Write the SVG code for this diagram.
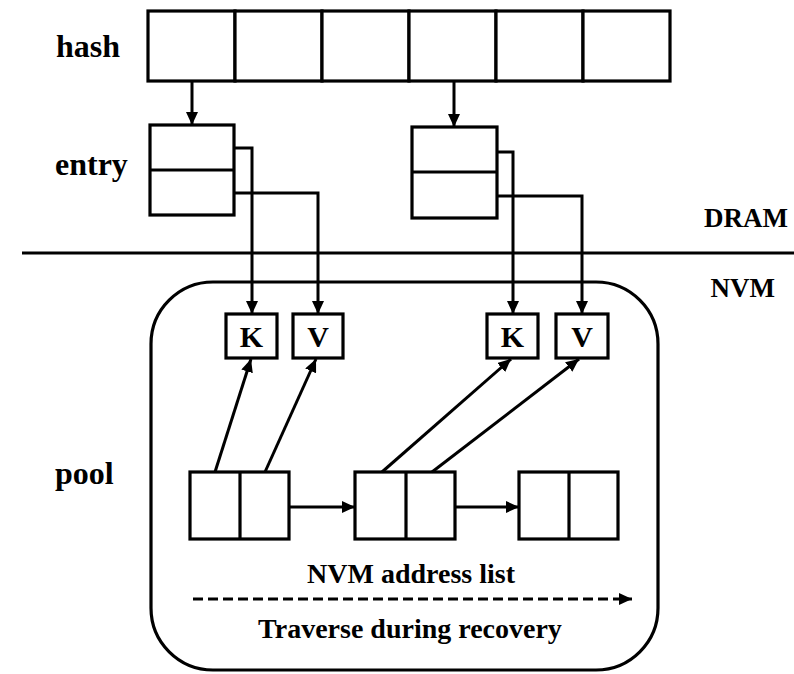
<svg xmlns="http://www.w3.org/2000/svg" width="794" height="674" viewBox="0 0 794 674">
  <style>
    .box { fill: #ffffff; stroke: #000000; stroke-width: 3.2; }
    .ln { fill: none; stroke: #000000; stroke-width: 3.2; }
    .wire { fill: none; stroke: #000000; stroke-width: 3; }
    text { font-family: "Liberation Serif", "Times New Roman", serif; font-weight: bold; fill: #000000; }
    .big { font-size: 32px; }
    .mid { font-size: 27px; }
    .kv { font-size: 30px; text-anchor: middle; }
    .cap { font-size: 28px; text-anchor: middle; }
  </style>
  <defs>
    <marker id="arrow" markerUnits="userSpaceOnUse" markerWidth="13" markerHeight="12" refX="13" refY="6" orient="auto">
      <path d="M0,0 L13,6 L0,12 z" fill="#000000"/>
    </marker>
  </defs>

  <rect width="794" height="674" fill="#ffffff"/>

  <!-- row labels -->
  <g id="labels">
    <text class="big" x="56" y="57">hash</text>
    <text class="big" x="55" y="175">entry</text>
    <text class="big" x="55" y="484">pool</text>
    <text class="mid" x="788" y="227" text-anchor="end">DRAM</text>
    <text class="mid" x="775" y="297" text-anchor="end">NVM</text>
  </g>

  <!-- DRAM / NVM boundary -->
  <line id="boundary" x1="22" y1="253" x2="794" y2="253" stroke="#000000" stroke-width="3.2"/>

  <!-- NVM pool -->
  <g id="pool">
    <rect class="box" x="151" y="282" width="507" height="388" rx="62" ry="62"/>
  </g>

  <!-- hash table buckets -->
  <g id="hash">
    <rect class="box" x="148" y="11" width="87" height="70"/>
    <rect class="box" x="235" y="11" width="87" height="70"/>
    <rect class="box" x="322" y="11" width="87" height="70"/>
    <rect class="box" x="409" y="11" width="87" height="70"/>
    <rect class="box" x="496" y="11" width="87" height="70"/>
    <rect class="box" x="583" y="11" width="87" height="70"/>
  </g>

  <!-- entries -->
  <g id="entry1">
    <rect class="box" x="150" y="125" width="84" height="90"/>
    <line class="ln" x1="150" y1="170" x2="234" y2="170"/>
  </g>
  <g id="entry2">
    <rect class="box" x="412" y="127" width="85" height="91"/>
    <line class="ln" x1="412" y1="172" x2="497" y2="172"/>
  </g>

  <!-- key / value records -->
  <g id="k1">
    <rect class="box" x="226" y="314" width="51" height="44"/>
    <text class="kv" x="251.5" y="347">K</text>
  </g>
  <g id="v1">
    <rect class="box" x="293" y="314" width="50" height="44"/>
    <text class="kv" x="318" y="347">V</text>
  </g>
  <g id="k2">
    <rect class="box" x="487" y="314" width="51" height="44"/>
    <text class="kv" x="512.5" y="347">K</text>
  </g>
  <g id="v2">
    <rect class="box" x="556" y="314" width="52" height="44"/>
    <text class="kv" x="582" y="347">V</text>
  </g>

  <!-- address list nodes -->
  <g id="node1">
    <rect class="box" x="190" y="472" width="99" height="67"/>
    <line class="ln" x1="240" y1="472" x2="240" y2="539"/>
  </g>
  <g id="node2">
    <rect class="box" x="355" y="472" width="100" height="67"/>
    <line class="ln" x1="406" y1="472" x2="406" y2="539"/>
  </g>
  <g id="node3">
    <rect class="box" x="519" y="472" width="99" height="67"/>
    <line class="ln" x1="569" y1="472" x2="569" y2="539"/>
  </g>

  <!-- connectors -->
  <g id="connectors">
    <line class="wire" x1="192" y1="81" x2="192" y2="125" marker-end="url(#arrow)"/>
    <line class="wire" x1="454" y1="81" x2="454" y2="127" marker-end="url(#arrow)"/>
    <path class="wire" d="M234,148 H252 V314" marker-end="url(#arrow)"/>
    <path class="wire" d="M234,193 H318 V314" marker-end="url(#arrow)"/>
    <path class="wire" d="M497,152 H513 V314" marker-end="url(#arrow)"/>
    <path class="wire" d="M497,196 H582 V314" marker-end="url(#arrow)"/>
    <line class="wire" x1="215" y1="472" x2="251" y2="359" marker-end="url(#arrow)"/>
    <line class="wire" x1="265" y1="472" x2="316" y2="359" marker-end="url(#arrow)"/>
    <line class="wire" x1="382" y1="472" x2="511" y2="359" marker-end="url(#arrow)"/>
    <line class="wire" x1="432" y1="472" x2="579" y2="359" marker-end="url(#arrow)"/>
    <line class="wire" x1="289" y1="507" x2="355" y2="507" marker-end="url(#arrow)"/>
    <line class="wire" x1="455" y1="507" x2="519" y2="507" marker-end="url(#arrow)"/>
    <line class="wire" x1="193" y1="599" x2="632" y2="599" stroke-dasharray="10,5" marker-end="url(#arrow)"/>
  </g>

  <!-- captions -->
  <g id="captions">
    <text class="cap" x="411" y="583">NVM address list</text>
    <text class="cap" x="410" y="638">Traverse during recovery</text>
  </g>
</svg>
